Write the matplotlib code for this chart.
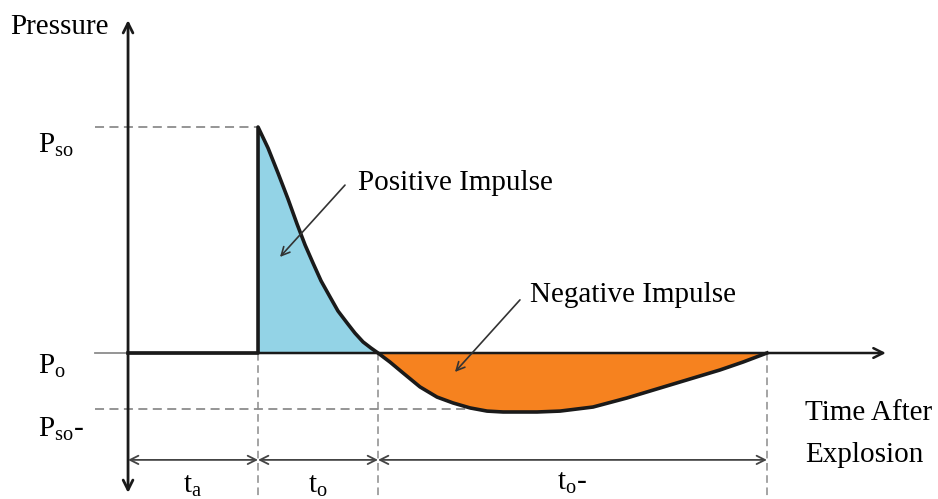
import matplotlib
matplotlib.use('Agg')
import matplotlib.pyplot as plt

plt.rcParams['font.family'] = ['Liberation Serif', 'DejaVu Serif']
plt.rcParams['mathtext.fontset'] = 'custom'
plt.rcParams['mathtext.rm'] = 'Liberation Serif'

# Blast wave pressure-time history (arbitrary units)
t_a = 1.0          # arrival time
t_o = 0.923        # positive phase duration
t_o_neg = 2.992    # negative phase duration
P_so = 1.0         # peak overpressure
P_so_neg = -0.248  # peak underpressure

t_pos = [1.0, 1.077, 1.154, 1.231, 1.3, 1.362, 1.423, 1.485, 1.554,
         1.615, 1.685, 1.746, 1.808, 1.869, 1.923]
p_pos = [1.0, 0.907, 0.796, 0.681, 0.571, 0.478, 0.398, 0.319, 0.248,
         0.186, 0.133, 0.088, 0.049, 0.022, 0.0]
t_neg = [1.923, 2.015, 2.115, 2.246, 2.377, 2.5, 2.631, 2.762, 2.885, 3.146,
         3.323, 3.577, 3.838, 4.092, 4.346, 4.554, 4.731, 4.915]
p_neg = [0.0, -0.040, -0.088, -0.150, -0.195, -0.221, -0.243, -0.257, -0.261, -0.261,
         -0.257, -0.239, -0.199, -0.155, -0.111, -0.075, -0.040, 0.0]

blue = '#93d3e6'
orange = '#f6821f'
dark = '#1a1a1a'
grey = '#8c8c8c'

fig = plt.figure(figsize=(9.38, 4.99), dpi=100)
ax = fig.add_axes([0, 0, 1, 1])
ax.set_xlim(-0.985, 6.231)
ax.set_ylim(-0.646, 1.562)
ax.axis('off')

t_end_pos = t_a + t_o
t_end_neg = t_end_pos + t_o_neg

# fills
ax.fill_between(t_pos, p_pos, 0, color=blue, lw=0)
ax.fill_between(t_neg, p_neg, 0, color=orange, lw=0)

# guide lines
ax.plot([-0.254, t_a], [P_so, P_so], color=grey, lw=1.3, ls=(0, (5, 3)))
ax.plot([-0.254, 2.66], [P_so_neg, P_so_neg], color=grey, lw=1.3, ls=(0, (5, 3)))
ax.plot([-0.254, 0], [0, 0], color=grey, lw=1.3)
for tx in [t_a, t_end_pos, t_end_neg]:
    ax.plot([tx, tx], [0, -0.646], color=grey, lw=1.1, ls=(0, (5, 3)))

# axes with arrows
ax.annotate('', xy=(0, 1.473), xytext=(0, -0.619),
            arrowprops=dict(arrowstyle='<->,head_length=0.7,head_width=0.35', color=dark, lw=2.0, shrinkA=0, shrinkB=0))
ax.annotate('', xy=(5.83, 0), xytext=(0, 0),
            arrowprops=dict(arrowstyle='->,head_length=0.7,head_width=0.35', color=dark, lw=1.8, shrinkA=0, shrinkB=0))

# pressure curve
ax.plot([0, t_a, t_a] + t_pos[1:] + t_neg[1:], [0, 0, P_so] + p_pos[1:] + p_neg[1:],
        color=dark, lw=2.6, solid_joinstyle='round')

# dimension arrows
dim_y = -0.473
for t0, t1 in [(0, t_a), (t_a, t_end_pos), (t_end_pos, t_end_neg)]:
    ax.annotate('', xy=(t1, dim_y), xytext=(t0, dim_y),
                arrowprops=dict(arrowstyle='<->,head_length=0.6,head_width=0.3', color='#444444', lw=1.3, shrinkA=0, shrinkB=0))

# labels
fs = 21
ax.text(-0.908, 1.442, 'Pressure', fontsize=fs, ha='left', va='center')
ax.text(-0.692, 0.92, r'$\mathrm{P}_{\mathrm{so}}$', fontsize=fs, ha='left', va='center')
ax.text(-0.692, -0.06, r'$\mathrm{P}_{\mathrm{o}}$', fontsize=fs, ha='left', va='center')
ax.text(-0.692, -0.335, r'$\mathrm{P}_{\mathrm{so}}$-', fontsize=fs, ha='left', va='center')
ax.text(t_a / 2, -0.59, r'$\mathrm{t}_{\mathrm{a}}$', fontsize=fs, ha='center', va='center')
ax.text(t_a + t_o / 2, -0.59, r'$\mathrm{t}_{\mathrm{o}}$', fontsize=fs, ha='center', va='center')
ax.text(t_end_pos + t_o_neg / 2, -0.575, r'$\mathrm{t}_{\mathrm{o}}$-', fontsize=fs, ha='center', va='center')
ax.text(5.208, -0.265, 'Time After', fontsize=fs, ha='left', va='center')
ax.text(5.208, -0.451, 'Explosion', fontsize=fs, ha='left', va='center')
ax.text(1.769, 0.752, 'Positive Impulse', fontsize=fs, ha='left', va='center')
ax.text(3.092, 0.257, 'Negative Impulse', fontsize=fs, ha='left', va='center')

# impulse pointers
ax.annotate('', xy=(1.169, 0.425), xytext=(1.669, 0.743),
            arrowprops=dict(arrowstyle='->,head_length=0.6,head_width=0.3', color='#333333', lw=1.2, shrinkA=0, shrinkB=0))
ax.annotate('', xy=(2.515, -0.084), xytext=(3.015, 0.235),
            arrowprops=dict(arrowstyle='->,head_length=0.6,head_width=0.3', color='#333333', lw=1.2, shrinkA=0, shrinkB=0))

fig.savefig('out.png', dpi=100)
